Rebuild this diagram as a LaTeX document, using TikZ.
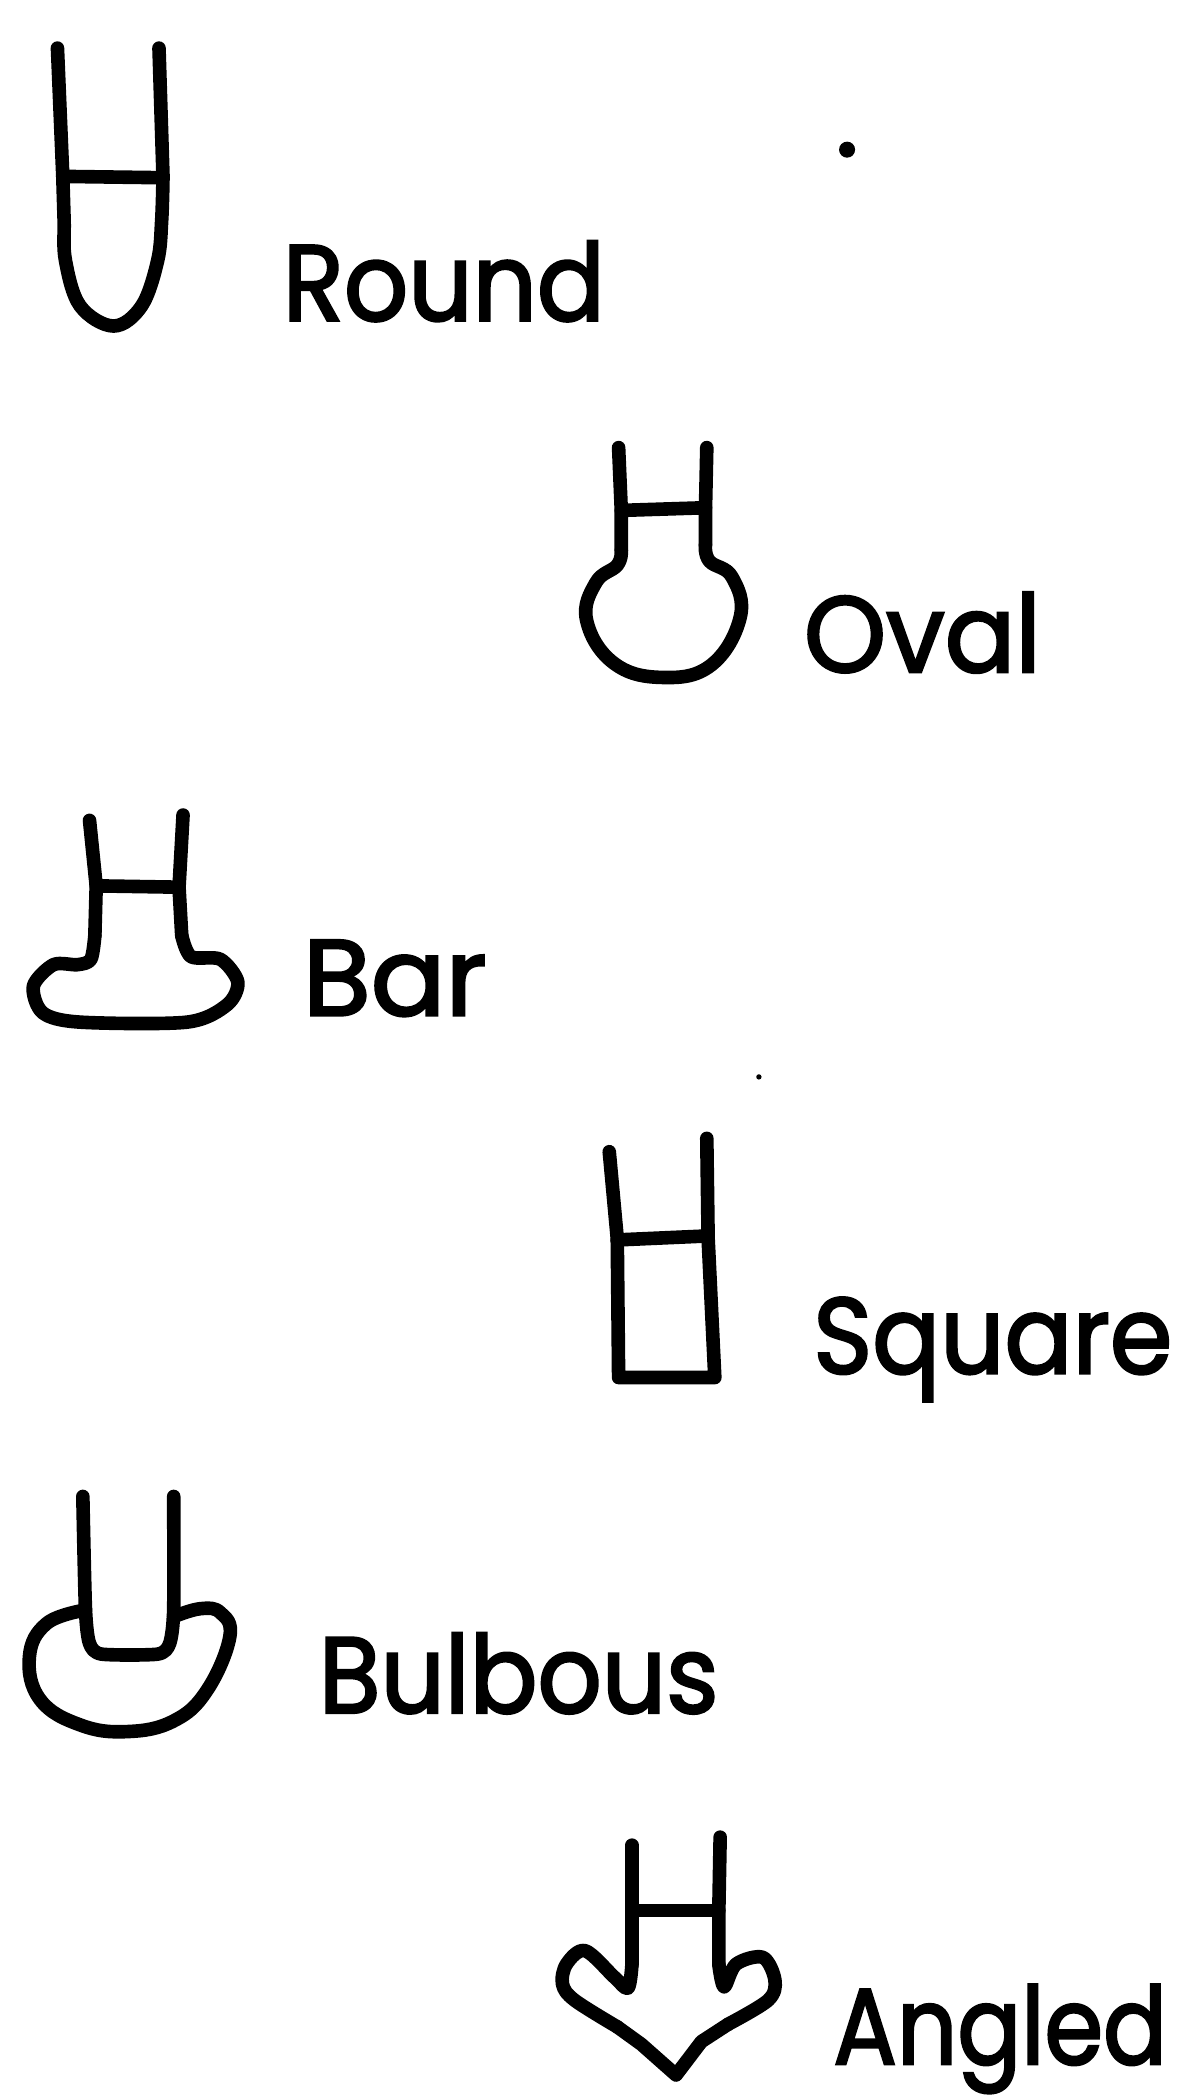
\documentclass[tikz,border=0pt]{standalone}
\usepackage{fontspec}
\newfontfamily\lblfont[FakeStretch=0.93,FakeBold=2.2]{Poppins}
\tikzset{
  rim/.style={line width=2.9pt,line cap=round,line join=round},
  lbl/.style={anchor=base west,inner sep=0pt,font=\lblfont\fontsize{23}{23}\selectfont},
}

\begin{document}
\begin{tikzpicture}[x=0.01cm,y=-0.01cm]
\useasboundingbox (0,0) rectangle (900,1568);
% ================= round =================
\draw[rim] (43,36) -- (47,132);
\draw[rim] (119,36) -- (122,132);
\draw[rim] plot[smooth,tension=0.6] coordinates {(47,132) (48,165) (49,195) (60,229) (85,244) (106,229) (118,195) (121,165) (122,132)};
\draw[rim] (47,132) -- (122,133);
\node[lbl] (round) at (211,240) {Round};
% ================= oval =================
\draw[rim] (463,335) -- (465,382) -- (465,412);
\draw[rim] (529,335) -- (528,382) -- (528,408);
\draw[rim] (465,382) -- (528,380);
\draw[rim] plot[smooth,tension=0.7] coordinates {(465,412) (462,423) (446,436) (439,464) (459,496) (495,507) (532,498) (554,462) (548,432) (531,420) (528,408)};
\node[lbl,xscale=1.04] (oval) at (601,503) {Oval};
% ================= bar =================
\draw[rim] (67,614) -- (72,663) -- (71,700);
\draw[rim] (137,610) -- (134,664) -- (136,700);
\draw[rim] (72,663) -- (134,664);
\draw[rim] plot[smooth,tension=0.5] coordinates {(71,700) (68,718) (58,722) (40,722) (25,738) (32,758) (60,765) (140,765) (170,752) (178,735) (165,718) (143,716) (136,700)};
\node[lbl,xscale=1.1] (bar) at (226,760) {Bar};
% ================= square =================
\draw[rim] (456,862) -- (462,927) -- (463,1031) -- (535,1031) -- (530,927) -- (529,852);
\draw[rim] (462,928) -- (530,925);
\node[lbl] (square) at (608,1028) {Square};
% ================= bulbous =================
\draw[rim] plot[smooth,tension=0.4] coordinates {(62,1120) (64,1205) (67,1230) (76,1238) (118,1238) (127,1230) (130,1205) (130,1120)};
\draw[rim] plot[smooth,tension=0.7] coordinates {(64,1205) (35,1215) (22,1240) (30,1272) (60,1291) (95,1296) (130,1288) (155,1265) (172,1225) (165,1207) (150,1204) (130,1210)};
\node[lbl] (bulbous) at (238,1282) {Bulbous};
% ================= angled =================
\draw[rim] (473,1381) -- (473,1430) -- (473,1470);
\draw[rim] (539,1375) -- (538,1430) -- (538,1470);
\draw[rim] (473,1430) -- (538,1430);
\draw[rim] plot[smooth,tension=0.55] coordinates {(473,1470) (470,1488) (460,1480) (438,1460) (424,1470) (421,1485) (430,1497) (462,1517)};
\draw[rim] (462,1517) -- (480,1530) -- (506,1553) -- (525,1528) -- (545,1515);
\draw[rim] plot[smooth,tension=0.55] coordinates {(545,1515) (575,1497) (580,1482) (571,1465) (551,1470) (542,1487) (538,1470)};
\node[lbl,xscale=0.94] (angled) at (623,1545) {Angled};
% specks
\fill (634,112) circle (6);
\fill (568,806) circle (2);
\end{tikzpicture}
\end{document}
